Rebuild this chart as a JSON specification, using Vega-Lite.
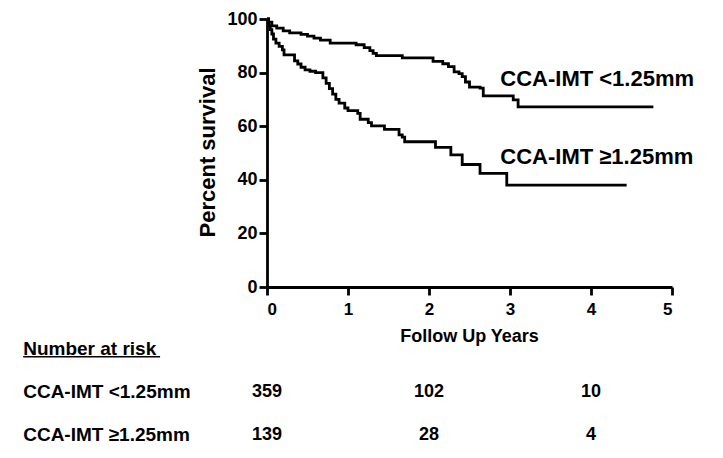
{
  "$schema": "https://vega.github.io/schema/vega-lite/v6.json",
  "width": 405,
  "height": 268,
  "autosize": {"type": "none"},
  "padding": {"left": 267, "top": 19, "right": 51, "bottom": 171},
  "background": "white",
  "config": {
    "view": {"stroke": null},
    "font": "Liberation Sans",
    "axis": {
      "grid": false,
      "domainColor": "black",
      "domainWidth": 2.8,
      "tickColor": "black",
      "tickWidth": 2.8,
      "tickSize": 8,
      "labelFont": "Liberation Sans",
      "labelFontWeight": "bold",
      "labelColor": "black",
      "titleFont": "Liberation Sans",
      "titleFontWeight": "bold",
      "titleColor": "black"
    }
  },
  "datasets": {
    "km": [
      {"group": "<1.25", "t": 0, "s": 100},
      {"group": "<1.25", "t": 0.02, "s": 98.8},
      {"group": "<1.25", "t": 0.06, "s": 97.4},
      {"group": "<1.25", "t": 0.12, "s": 96.6},
      {"group": "<1.25", "t": 0.2, "s": 95.6},
      {"group": "<1.25", "t": 0.28, "s": 94.8},
      {"group": "<1.25", "t": 0.42, "s": 94.3},
      {"group": "<1.25", "t": 0.5, "s": 93.6},
      {"group": "<1.25", "t": 0.58, "s": 92.9},
      {"group": "<1.25", "t": 0.66, "s": 92.1},
      {"group": "<1.25", "t": 0.78, "s": 91.0},
      {"group": "<1.25", "t": 1.1, "s": 90.4},
      {"group": "<1.25", "t": 1.2, "s": 89.3},
      {"group": "<1.25", "t": 1.27, "s": 88.2},
      {"group": "<1.25", "t": 1.31, "s": 87.2},
      {"group": "<1.25", "t": 1.35, "s": 86.3},
      {"group": "<1.25", "t": 1.67, "s": 85.5},
      {"group": "<1.25", "t": 2.05, "s": 84.2},
      {"group": "<1.25", "t": 2.17, "s": 83.3},
      {"group": "<1.25", "t": 2.24, "s": 82.2},
      {"group": "<1.25", "t": 2.31, "s": 80.3},
      {"group": "<1.25", "t": 2.37, "s": 79.6},
      {"group": "<1.25", "t": 2.41, "s": 78.5},
      {"group": "<1.25", "t": 2.45, "s": 76.5},
      {"group": "<1.25", "t": 2.5, "s": 74.6},
      {"group": "<1.25", "t": 2.63, "s": 74.2},
      {"group": "<1.25", "t": 2.67, "s": 71.3},
      {"group": "<1.25", "t": 3.04, "s": 69.8},
      {"group": "<1.25", "t": 3.1, "s": 67.2},
      {"group": "<1.25", "t": 4.77, "s": 67.2},
      {"group": ">=1.25", "t": 0, "s": 100},
      {"group": ">=1.25", "t": 0.02, "s": 97.5},
      {"group": ">=1.25", "t": 0.04, "s": 96.0},
      {"group": ">=1.25", "t": 0.06, "s": 94.4},
      {"group": ">=1.25", "t": 0.08, "s": 92.5},
      {"group": ">=1.25", "t": 0.11, "s": 91.0},
      {"group": ">=1.25", "t": 0.15, "s": 89.8},
      {"group": ">=1.25", "t": 0.19, "s": 88.5},
      {"group": ">=1.25", "t": 0.21, "s": 86.6},
      {"group": ">=1.25", "t": 0.34, "s": 84.4},
      {"group": ">=1.25", "t": 0.38, "s": 83.2},
      {"group": ">=1.25", "t": 0.42, "s": 82.0},
      {"group": ">=1.25", "t": 0.47, "s": 81.0},
      {"group": ">=1.25", "t": 0.53, "s": 80.5},
      {"group": ">=1.25", "t": 0.6, "s": 80.0},
      {"group": ">=1.25", "t": 0.69, "s": 78.0},
      {"group": ">=1.25", "t": 0.73, "s": 76.0},
      {"group": ">=1.25", "t": 0.77, "s": 74.0},
      {"group": ">=1.25", "t": 0.81, "s": 72.0},
      {"group": ">=1.25", "t": 0.85, "s": 70.0},
      {"group": ">=1.25", "t": 0.89, "s": 68.6},
      {"group": ">=1.25", "t": 0.96, "s": 66.8},
      {"group": ">=1.25", "t": 1.0, "s": 65.8},
      {"group": ">=1.25", "t": 1.12, "s": 64.8},
      {"group": ">=1.25", "t": 1.15, "s": 62.6},
      {"group": ">=1.25", "t": 1.25, "s": 61.3},
      {"group": ">=1.25", "t": 1.29, "s": 60.1},
      {"group": ">=1.25", "t": 1.45, "s": 58.8},
      {"group": ">=1.25", "t": 1.63, "s": 56.8},
      {"group": ">=1.25", "t": 1.67, "s": 55.9},
      {"group": ">=1.25", "t": 1.7, "s": 54.2},
      {"group": ">=1.25", "t": 2.08, "s": 52.1},
      {"group": ">=1.25", "t": 2.27, "s": 49.3},
      {"group": ">=1.25", "t": 2.41, "s": 45.7},
      {"group": ">=1.25", "t": 2.63, "s": 42.4},
      {"group": ">=1.25", "t": 2.96, "s": 38.0},
      {"group": ">=1.25", "t": 4.44, "s": 38.0}
    ],
    "curveLabels": [
      {"label": "CCA-IMT <1.25mm", "t": 2.88, "s": 77.6},
      {"label": "CCA-IMT ≥1.25mm", "t": 2.88, "s": 48.5}
    ],
    "rowLabels": [
      {"label": "Number at risk", "t": -3.01, "s": -23.1},
      {"label": "CCA-IMT <1.25mm", "t": -3.01, "s": -39.2},
      {"label": "CCA-IMT ≥1.25mm", "t": -3.01, "s": -55.2}
    ],
    "risk": [
      {"n": "359", "t": 0, "s": -39.2},
      {"n": "102", "t": 2, "s": -39.2},
      {"n": "10", "t": 4, "s": -39.2},
      {"n": "139", "t": 0, "s": -55.2},
      {"n": "28", "t": 2, "s": -55.2},
      {"n": "4", "t": 4, "s": -55.2}
    ],
    "underline": [
      {"t": -3.01, "t2": -1.32, "s": -26.0}
    ]
  },
  "layer": [
    {
      "data": {"name": "km"},
      "mark": {"type": "line", "interpolate": "step-after", "strokeWidth": 2.8, "color": "black"},
      "encoding": {
        "x": {
          "field": "t", "type": "quantitative",
          "scale": {"domain": [0, 5], "nice": false, "zero": false},
          "axis": {
            "values": [0, 1, 2, 3, 4, 5],
            "format": "d",
            "labelFontSize": 17,
            "labelPadding": 6,
            "title": "Follow Up Years",
            "titleFontSize": 18,
            "titleX": 202,
            "titleY": 49,
            "titleBaseline": "middle",
            "titleAlign": "center"
          }
        },
        "y": {
          "field": "s", "type": "quantitative",
          "scale": {"domain": [0, 100], "nice": false},
          "axis": {
            "values": [0, 20, 40, 60, 80, 100],
            "labelFontSize": 18,
            "labelPadding": 2,
            "title": "Percent survival",
            "titleFontSize": 22,
            "titleAngle": 270,
            "titleX": -60,
            "titleY": 133,
            "titleBaseline": "middle",
            "titleAlign": "center"
          }
        },
        "detail": {"field": "group"},
        "order": {"field": "t", "type": "quantitative"}
      }
    },
    {
      "data": {"name": "curveLabels"},
      "mark": {"type": "text", "align": "left", "baseline": "middle", "fontSize": 22, "fontWeight": "bold", "font": "Liberation Sans", "color": "black"},
      "encoding": {
        "x": {"field": "t", "type": "quantitative"},
        "y": {"field": "s", "type": "quantitative"},
        "text": {"field": "label"}
      }
    },
    {
      "data": {"name": "rowLabels"},
      "mark": {"type": "text", "align": "left", "baseline": "middle", "fontSize": 19, "fontWeight": "bold", "font": "Liberation Sans", "color": "black"},
      "encoding": {
        "x": {"field": "t", "type": "quantitative"},
        "y": {"field": "s", "type": "quantitative"},
        "text": {"field": "label"}
      }
    },
    {
      "data": {"name": "risk"},
      "mark": {"type": "text", "align": "center", "baseline": "middle", "fontSize": 18, "fontWeight": "bold", "font": "Liberation Sans", "color": "black"},
      "encoding": {
        "x": {"field": "t", "type": "quantitative"},
        "y": {"field": "s", "type": "quantitative"},
        "text": {"field": "n"}
      }
    },
    {
      "data": {"name": "underline"},
      "mark": {"type": "rule", "color": "black", "strokeWidth": 1.5},
      "encoding": {
        "x": {"field": "t", "type": "quantitative"},
        "x2": {"field": "t2"},
        "y": {"field": "s", "type": "quantitative"}
      }
    }
  ]
}
